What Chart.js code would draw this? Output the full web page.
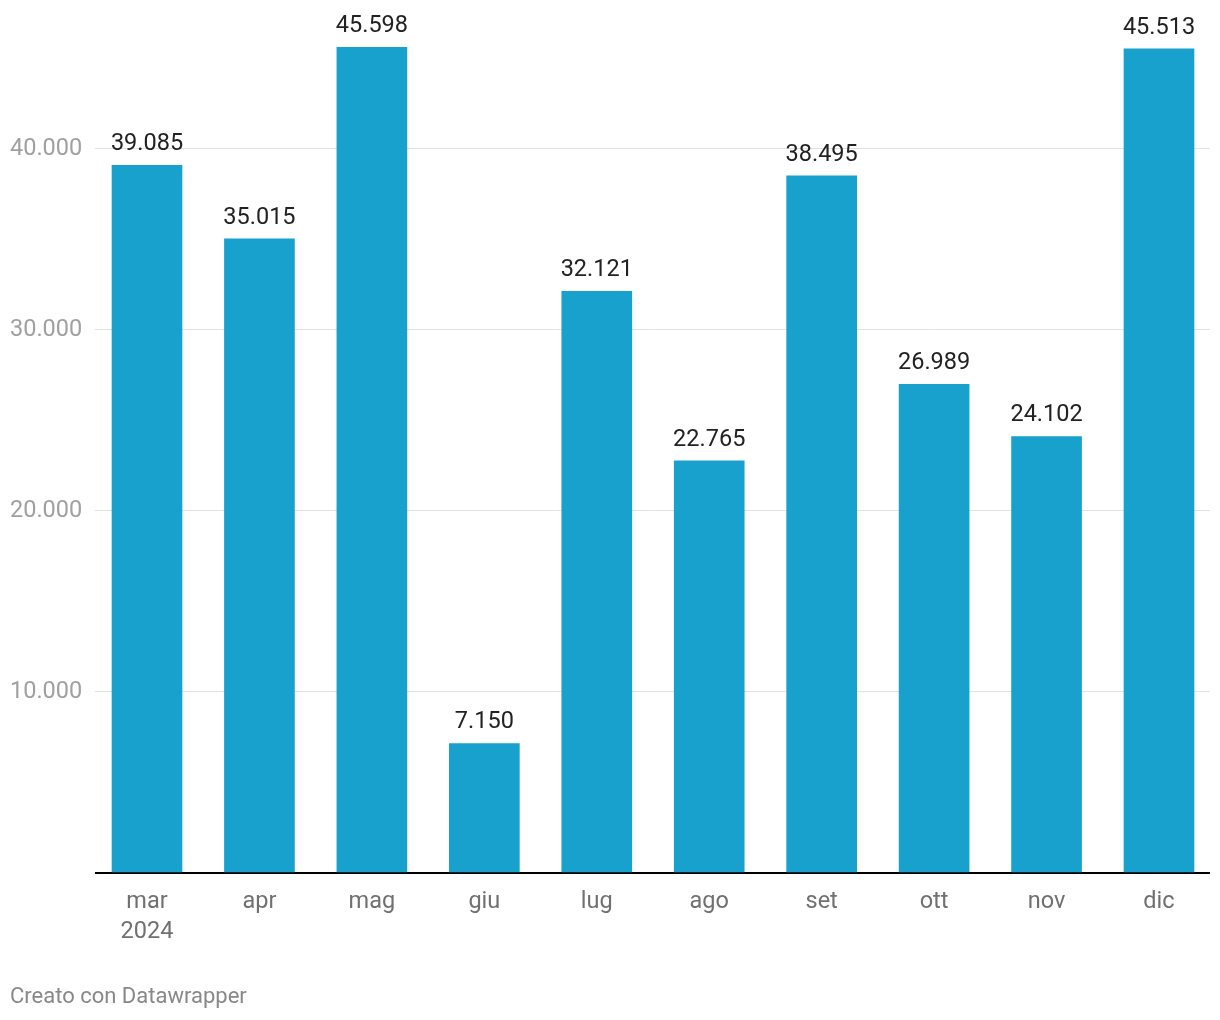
<!DOCTYPE html>
<html lang="it">
<head>
<meta charset="utf-8">
<script src="https://cdn.jsdelivr.net/npm/chart.js@4.4.1/dist/chart.umd.min.js"></script>
<style>
	body { margin: 0; background: #fff; font-family: Roboto, sans-serif; }
	#wrap { position: relative; width: 1220px; height: 1020px; }
	#nota { position: absolute; left: 10px; top: 983px; font-size: 22px; color: #888; }
</style>
</head>
<body>
<div id="wrap">
	<canvas id="grafico"></canvas>
	<div id="nota">Creato con Datawrapper</div>
</div>
<script>
// Dati
const mesi = [['mar', '2024'], 'apr', 'mag', 'giu', 'lug', 'ago', 'set', 'ott', 'nov', 'dic'];
const valori = [39085, 35015, 45598, 7150, 32121, 22765, 38495, 26989, 24102, 45513];
const tickY = [0, 10000, 20000, 30000, 40000];

const coloreBarre = '#18a1cd';
const fontSize = 23.5;

// separatore migliaia con il punto
function formatta(v) {
	return String(v).replace(/\B(?=(\d{3})+(?!\d))/g, '.');
}

// etichette sopra le barre
const etichette = {
	id: 'etichette',
	afterDatasetsDraw(chart) {
		const ctx = chart.ctx;
		const meta = chart.getDatasetMeta(0);
		ctx.save();
		ctx.font = fontSize + 'px Roboto';
		ctx.fillStyle = '#222';
		ctx.textAlign = 'center';
		ctx.textBaseline = 'middle';
		meta.data.forEach((bar, i) => {
			ctx.fillText(formatta(valori[i]), bar.x, bar.y - 21);
		});
		ctx.restore();
	},
};

// asse x lineare: un punto per ogni mese
const punti = valori.map((v, i) => ({ x: i, y: v }));

new Chart(document.getElementById('grafico'), {
	type: 'bar',
	data: {
		datasets: [
			{
				data: punti,
				backgroundColor: coloreBarre,
				barThickness: 70,
			},
		],
	},
	options: {
		responsive: true,
		maintainAspectRatio: false,
		animation: false,
		layout: { padding: { left: 10, right: 10, top: 3, bottom: 0 } },
		plugins: {
			legend: { display: false },
			tooltip: { enabled: false },
		},
		scales: {
			x: {
				type: 'linear',
				offset: false,
				min: -0.4625,
				max: 9.4536,
				grid: { display: false, offset: false },
				border: { display: false },
				ticks: {
					color: '#707070',
					font: { family: 'Roboto', size: fontSize, lineHeight: 1.277 },
					padding: 6,
					maxRotation: 0,
					autoSkip: false,
					callback: (v) => mesi[v],
				},
				afterBuildTicks: (axis) => {
					axis.ticks = mesi.map((m, i) => ({ value: i }));
				},
				afterFit: (axis) => {
					axis.height = 147;
				},
			},
			y: {
				min: 0,
				max: 47430,
				border: { display: false },
				grid: {
					drawTicks: false,
					color: (c) => (c.tick && c.tick.value === 0 ? '#000' : '#e2e2e2'),
					lineWidth: (c) => (c.tick && c.tick.value === 0 ? 2 : 1),
				},
				ticks: {
					color: '#a0a0a0',
					font: { family: 'Roboto', size: fontSize },
					crossAlign: 'far',
					padding: 0,
					callback: (v) => (v === 0 ? '' : formatta(v)),
				},
				afterBuildTicks: (axis) => {
					axis.ticks = tickY.map((v) => ({ value: v }));
				},
				afterFit: (axis) => {
					axis.width = 85;
				},
			},
		},
	},
	plugins: [etichette],
});
</script>
</body>
</html>
